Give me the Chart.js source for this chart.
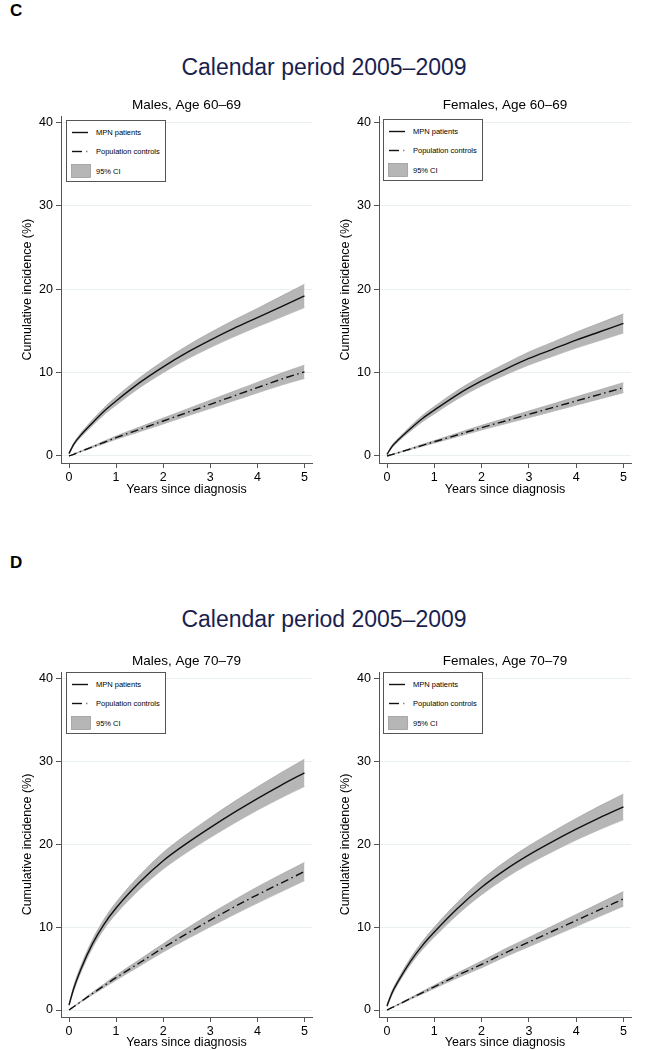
<!DOCTYPE html>
<html>
<head>
<meta charset="utf-8">
<script src="https://cdn.jsdelivr.net/npm/chart.js@4.4.1/dist/chart.umd.min.js"></script>
<style>
  body { margin: 0; width: 653px; height: 1050px; overflow: hidden; background: #fff;
         font-family: "Liberation Sans", Arial, sans-serif; position: relative; }
  .letter { position: absolute; left: 10px; font-weight: bold; font-size: 17px; color: #000; }
  .maintitle { position: absolute; left: 0; width: 648px; text-align: center; font-size: 23px; color: #1a1f4e; }
  canvas { position: absolute; }
  .legend { position: absolute; width: 98px; height: 60px; border: 1px solid #555; background: #fff;
            font-size: 7.5px; color: #000; }
  .legend .row { position: absolute; left: 4px; height: 14px; }
  .legend .row span { position: absolute; left: 25px; top: 3px; white-space: nowrap; }
  .legend svg { position: absolute; left: 0; top: 0; }
</style>
</head>
<body>
<div class="letter" style="top:1px">C</div>
<div class="maintitle" style="top:54px">Calendar period 2005–2009</div>
<div class="letter" style="top:553px">D</div>
<div class="maintitle" style="top:606px">Calendar period 2005–2009</div>

<canvas id="c1" width="325" height="415" style="left:0;top:90px"></canvas>
<canvas id="c2" width="325" height="415" style="left:318px;top:90px"></canvas>
<canvas id="c3" width="325" height="415" style="left:0;top:643px"></canvas>
<canvas id="c4" width="325" height="415" style="left:318px;top:643px"></canvas>

<script>
var times = [0, 0.1, 0.25, 0.5, 0.75, 1, 1.5, 2, 2.5, 3, 3.5, 4, 4.5, 5];
var xTicks = [0, 1, 2, 3, 4, 5];
var yTicks = [0, 10, 20, 30, 40];
var legendLabels = ['MPN patients', 'Population controls', '95% CI'];
var panelTitles = ['Males, Age 60\u201369', 'Females, Age 60\u201369', 'Males, Age 70\u201379', 'Females, Age 70\u201379'];

// Males 60-69
var m60Mpn   = [0.3, 1.4, 2.5, 4.0, 5.4, 6.6, 8.8, 10.7, 12.4, 13.9, 15.3, 16.6, 17.9, 19.2];
var m60MpnLo = [0.25, 1.25, 2.25, 3.65, 4.98, 6.1, 8.2, 10.0, 11.6, 13.0, 14.3, 15.5, 16.65, 17.8];
var m60MpnHi = [0.35, 1.55, 2.75, 4.35, 5.82, 7.1, 9.4, 11.4, 13.2, 14.8, 16.3, 17.7, 19.15, 20.6];
var m60Pop   = [0, 0.2, 0.55, 1.1, 1.65, 2.2, 3.2, 4.2, 5.2, 6.2, 7.2, 8.2, 9.2, 10.1];
var m60PopLo = [0, 0.18, 0.5, 1.0, 1.5, 2.0, 2.92, 3.85, 4.78, 5.7, 6.63, 7.57, 8.48, 9.3];
var m60PopHi = [0, 0.22, 0.6, 1.2, 1.8, 2.4, 3.48, 4.55, 5.62, 6.7, 7.77, 8.83, 9.92, 10.9];

// Females 60-69
var f60Mpn   = [0.2, 1.1, 2.0, 3.3, 4.5, 5.5, 7.4, 9.0, 10.4, 11.7, 12.8, 13.9, 14.9, 15.9];
var f60MpnLo = [0.15, 0.95, 1.8, 3.0, 4.12, 5.05, 6.88, 8.4, 9.72, 10.92, 11.95, 12.95, 13.85, 14.75];
var f60MpnHi = [0.25, 1.25, 2.2, 3.6, 4.88, 5.95, 7.92, 9.6, 11.08, 12.48, 13.65, 14.85, 15.95, 17.05];
var f60Pop   = [0, 0.17, 0.42, 0.85, 1.28, 1.7, 2.55, 3.4, 4.2, 5.0, 5.8, 6.6, 7.4, 8.2];
var f60PopLo = [0, 0.15, 0.38, 0.77, 1.16, 1.55, 2.33, 3.12, 3.86, 4.6, 5.35, 6.1, 6.85, 7.6];
var f60PopHi = [0, 0.19, 0.46, 0.93, 1.4, 1.85, 2.77, 3.68, 4.54, 5.4, 6.25, 7.1, 7.95, 8.8];

// Males 70-79
var m70Mpn   = [0.6, 2.6, 4.9, 8.0, 10.4, 12.3, 15.4, 18.0, 20.1, 22.0, 23.8, 25.5, 27.1, 28.6];
var m70MpnLo = [0.5, 2.3, 4.5, 7.5, 9.8, 11.6, 14.55, 17.0, 19.0, 20.8, 22.5, 24.1, 25.58, 26.95];
var m70MpnHi = [0.7, 2.9, 5.3, 8.5, 11.0, 13.0, 16.25, 19.0, 21.2, 23.2, 25.1, 26.9, 28.62, 30.25];
var m70Pop   = [0, 0.4, 1.0, 2.0, 2.95, 3.9, 5.7, 7.5, 9.2, 10.85, 12.4, 13.9, 15.3, 16.7];
var m70PopLo = [0, 0.37, 0.93, 1.85, 2.73, 3.6, 5.3, 7.0, 8.55, 10.05, 11.5, 12.9, 14.25, 15.6];
var m70PopHi = [0, 0.43, 1.07, 2.15, 3.17, 4.2, 6.1, 8.0, 9.85, 11.6, 13.25, 14.85, 16.35, 17.8];

// Females 70-79
var f70Mpn   = [0.5, 2.0, 3.6, 5.9, 7.8, 9.4, 12.3, 14.8, 16.9, 18.7, 20.3, 21.8, 23.2, 24.5];
var f70MpnLo = [0.4, 1.75, 3.3, 5.5, 7.3, 8.8, 11.55, 13.9, 15.9, 17.6, 19.1, 20.5, 21.78, 22.95];
var f70MpnHi = [0.6, 2.25, 3.9, 6.3, 8.3, 10.0, 13.05, 15.7, 17.9, 19.8, 21.5, 23.1, 24.62, 26.05];
var f70Pop   = [0, 0.28, 0.7, 1.4, 2.1, 2.8, 4.2, 5.5, 6.9, 8.2, 9.5, 10.8, 12.1, 13.4];
var f70PopLo = [0, 0.26, 0.65, 1.3, 1.95, 2.6, 3.9, 5.1, 6.42, 7.64, 8.86, 10.08, 11.3, 12.52];
var f70PopHi = [0, 0.3, 0.75, 1.5, 2.25, 3.0, 4.5, 5.9, 7.38, 8.76, 10.14, 11.52, 12.9, 14.28];

var FONT = '"Liberation Sans", Arial, sans-serif';
var BAND = '#b6b6b6';
var BANDEDGE = '#9c9c9c';
var DASHDOT = [8, 3.5, 1.5, 3.5];

function pts(ys) {
  var out = [];
  for (var i = 0; i < times.length; i++) out.push({x: times[i], y: ys[i]});
  return out;
}

function line(ys, dash) {
  return { data: pts(ys), borderColor: '#111', borderWidth: 1.4, borderDash: dash || [],
           pointRadius: 0, fill: false, cubicInterpolationMode: 'monotone' };
}

function edge(ys, fill) {
  return { data: pts(ys), borderColor: BANDEDGE, borderWidth: 0.6, backgroundColor: BAND,
           pointRadius: 0, fill: fill, cubicInterpolationMode: 'monotone' };
}

function makePanel(id, title, titlePad, xHeight, right, mpn, mpnLo, mpnHi, pop, popLo, popHi) {
  var ctx = document.getElementById(id).getContext('2d');
  return new Chart(ctx, {
    type: 'line',
    data: {
      datasets: [
        line(mpn),
        line(pop, DASHDOT),
        edge(mpnHi, '+1'),
        edge(mpnLo, false),
        edge(popHi, '+1'),
        edge(popLo, false)
      ]
    },
    options: {
      responsive: false,
      animation: false,
      layout: { padding: { left: 0, right: right, top: 0, bottom: 0 } },
      plugins: {
        legend: { display: false },
        tooltip: { enabled: false },
        title: { display: true, text: title, fullSize: false, color: '#000',
                 font: { family: FONT, size: 13.5, weight: 'normal' }, padding: titlePad }
      },
      scales: {
        x: {
          type: 'linear', min: -0.17, max: 5.16,
          afterBuildTicks: function (s) { s.ticks = xTicks.map(function (v) { return {value: v}; }); },
          afterFit: function (s) { s.height = xHeight; },
          grid: { drawOnChartArea: false, drawTicks: true, tickLength: 5, tickColor: '#555' },
          border: { color: '#555', width: 1 },
          ticks: { color: '#000', padding: 2, maxRotation: 0, font: { family: FONT, size: 12.5 } },
          title: { display: true, text: 'Years since diagnosis', color: '#000',
                   font: { family: FONT, size: 12.5 }, padding: { top: 0, bottom: 7.5 } }
        },
        y: {
          type: 'linear', min: -0.84, max: 40.76,
          afterBuildTicks: function (s) { s.ticks = yTicks.map(function (v) { return {value: v}; }); },
          afterFit: function (s) { s.width = 61; },
          grid: { color: '#e8f0f2', lineWidth: 1, drawTicks: true, tickLength: 5, tickColor: '#555' },
          border: { color: '#555', width: 1 },
          ticks: { color: '#000', padding: 3, font: { family: FONT, size: 12.5 } },
          title: { display: true, text: 'Cumulative incidence (%)', color: '#000',
                   font: { family: FONT, size: 12.5 }, padding: { top: 20, bottom: 0 } }
        }
      }
    }
  });
}

makePanel('c1', panelTitles[0], {top: 7.4, bottom: 2.6}, 42, 13, m60Mpn, m60MpnLo, m60MpnHi, m60Pop, m60PopLo, m60PopHi);
makePanel('c2', panelTitles[1], {top: 7.4, bottom: 2.6}, 42, 12, f60Mpn, f60MpnLo, f60MpnHi, f60Pop, f60PopLo, f60PopHi);
makePanel('c3', panelTitles[2], {top: 10, bottom: 2.8}, 41, 13, m70Mpn, m70MpnLo, m70MpnHi, m70Pop, m70PopLo, m70PopHi);
makePanel('c4', panelTitles[3], {top: 10, bottom: 2.8}, 41, 12, f70Mpn, f70MpnLo, f70MpnHi, f70Pop, f70PopLo, f70PopHi);

// legend boxes sit inside the top-left corner of each plot
function addLegend(left, top) {
  var box = document.createElement('div');
  box.className = 'legend';
  box.style.left = left + 'px';
  box.style.top = top + 'px';
  var rowTops = [4, 23, 43];
  for (var i = 0; i < legendLabels.length; i++) {
    var row = document.createElement('div');
    row.className = 'row';
    row.style.top = rowTops[i] + 'px';
    var sample;
    if (i === 0) sample = '<svg width="22" height="14"><line x1="1" y1="7.5" x2="17" y2="7.5" stroke="#111" stroke-width="1.4"/></svg>';
    else if (i === 1) sample = '<svg width="22" height="14"><line x1="1" y1="7.5" x2="11" y2="7.5" stroke="#111" stroke-width="1.4"/><line x1="15" y1="7.5" x2="16.5" y2="7.5" stroke="#888" stroke-width="1.4"/></svg>';
    else sample = '<svg width="22" height="14"><rect x="0.5" y="0.5" width="19" height="13" fill="' + BAND + '" stroke="' + BANDEDGE + '" stroke-width="0.8"/></svg>';
    row.innerHTML = sample + '<span>' + legendLabels[i] + '</span>';
    box.appendChild(row);
  }
  document.body.appendChild(box);
}
addLegend(66, 120);
addLegend(383, 119);
addLegend(66, 672);
addLegend(383, 672);
</script>
</body>
</html>
